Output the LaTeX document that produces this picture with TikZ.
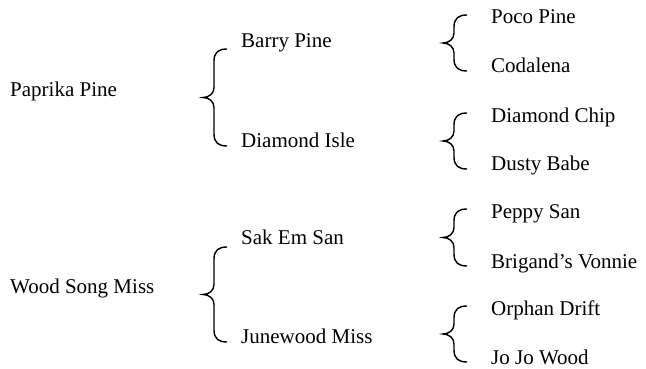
\documentclass[tikz,border=0pt]{standalone}
\usepackage{fontspec}
\setmainfont{Liberation Serif}
\usetikzlibrary{calc}
\newcommand{\nameSize}[0]{\fontsize{21}{25}\selectfont}
\newcommand{\famBrace}[2]{%
  \draw[famLine] let \p1=(#1), \p2=(#2), \p3=($(#1)!0.5!(#2)$) in
    (\x1,\y1) .. controls ({\x1-8pt},\y1) and ({\x1-13pt},{\y1-3pt}) .. ({\x1-13pt},{\y1-12pt})
    -- ({\x1-13pt},{\y3+10pt}) .. controls ({\x1-13pt},{\y3+4pt}) and ({\x1-18pt},\y3) .. ({\x1-24pt},\y3)
    .. controls ({\x1-18pt},\y3) and ({\x1-13pt},{\y3-4pt}) .. ({\x1-13pt},{\y3-10pt})
    -- ({\x1-13pt},{\y2+12pt}) .. controls ({\x1-13pt},{\y2+3pt}) and ({\x1-8pt},\y2) .. (\x1,\y2);}

\begin{document}
\begin{tikzpicture}[x=1pt, y=-1pt]
  \tikzset{every node/.style={anchor=base west,inner sep=0pt,font=\nameSize},
           famLine/.style={line width=1.4pt}}
  \useasboundingbox (0,0) rectangle (646,369);
  \node(a1) at (10,97) {Paprika Pine};
  \node(a2) at (10,293) {Wood Song Miss};
  \node(a1b1) at (241,48) {Barry Pine};
  \node(a1b2) at (241,147) {Diamond Isle};
  \node(a2b1) at (241,244) {Sak Em San};
  \node(a2b2) at (241,343) {Junewood Miss};
  \node(a1b1c1) at (491,24) {Poco Pine};
  \node(a1b1c2) at (491,73) {Codalena};
  \node(a1b2c1) at (491,122) {Diamond Chip};
  \node(a1b2c2) at (491,171) {Dusty Babe};
  \node(a2b1c1) at (491,218) {Peppy San};
  \node(a2b1c2) at (491,268) {Brigand’s Vonnie};
  \node(a2b2c1) at (491,315) {Orphan Drift};
  \node(a2b2c2) at (491,364) {Jo Jo Wood};
  \coordinate (a1t) at ($(a1b1.base west)+(-14,1)$);
  \coordinate (a1u) at ($(a1b2.base west)+(-14,-1)$);
  \coordinate (a2t) at ($(a2b1.base west)+(-14,3)$);
  \coordinate (a2u) at ($(a2b2.base west)+(-14,-1)$);
  \coordinate (a1b1t) at ($(a1b1c1.base west)+(-24,-9)$);
  \coordinate (a1b1u) at ($(a1b1c2.base west)+(-24,-2)$);
  \coordinate (a1b2t) at ($(a1b2c1.base west)+(-24,-9)$);
  \coordinate (a1b2u) at ($(a1b2c2.base west)+(-24,-2)$);
  \coordinate (a2b1t) at ($(a2b1c1.base west)+(-24,-9)$);
  \coordinate (a2b1u) at ($(a2b1c2.base west)+(-24,-2)$);
  \coordinate (a2b2t) at ($(a2b2c1.base west)+(-24,-9)$);
  \coordinate (a2b2u) at ($(a2b2c2.base west)+(-24,-2)$);
  \famBrace{a1t}{a1u}
  \famBrace{a2t}{a2u}
  \famBrace{a1b1t}{a1b1u}
  \famBrace{a1b2t}{a1b2u}
  \famBrace{a2b1t}{a2b1u}
  \famBrace{a2b2t}{a2b2u}
\end{tikzpicture}
\end{document}
